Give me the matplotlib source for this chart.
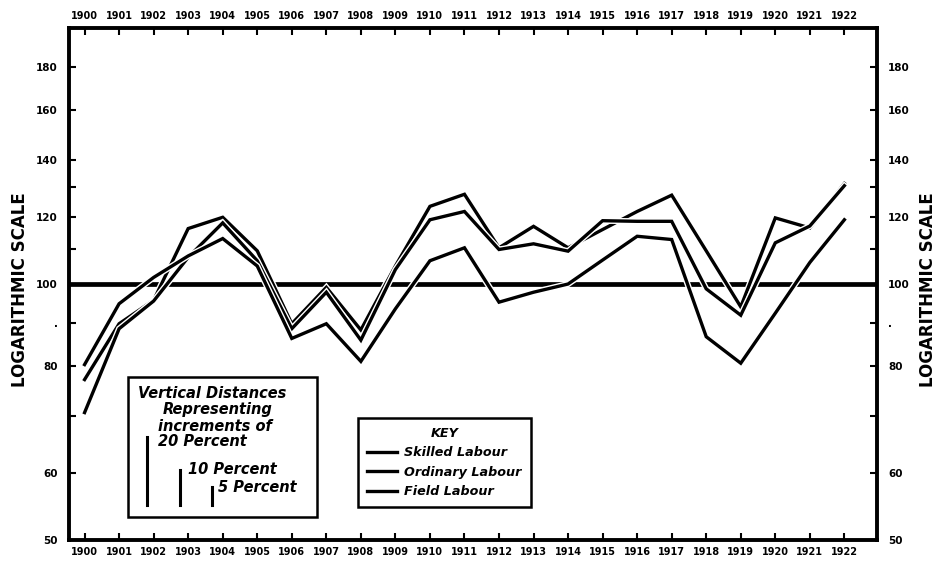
import matplotlib
matplotlib.use('Agg')
import matplotlib.pyplot as plt
import matplotlib.patheffects as pe
from matplotlib.patches import Rectangle
from matplotlib.ticker import NullLocator, NullFormatter

# индексы заработной платы, 1900-1922 (логарифмическая шкала)
years = list(range(1900, 1923))
skilled = [77.2, 89.8, 95.7, 116.2, 119.8, 109.4, 89.8, 99.1, 88.3, 105.0, 123.4, 127.5,
           110.3, 116.9, 110.3, 115.9, 121.7, 127.2, 109.4, 94.0, 119.6, 116.4, 131.3]
ordinary = [70.6, 88.6, 95.5, 107.5, 118.0, 106.5, 88.6, 97.8, 85.9, 104.0, 119.0, 121.7,
            109.8, 111.5, 109.3, 118.7, 118.5, 118.5, 98.7, 91.9, 111.8, 117.0, 130.5]
field = [80.4, 94.8, 101.8, 107.9, 113.1, 105.0, 86.3, 89.8, 81.1, 93.5, 106.5, 110.3,
         95.2, 97.8, 100.0, 106.7, 113.8, 112.8, 86.7, 80.7, 92.4, 106.0, 119.0]
series_names = ['Skilled Labour', 'Ordinary Labour', 'Field Labour']

y_ticks = [50, 60, 70, 80, 90, 100, 110, 120, 130, 140, 160, 180]
y_tick_labels = ['50', '60', '', '80', '.', '100', '', '120', '', '140', '160', '180']

# масштабные отрезки: приращения в процентах
increments = [20, 10, 5]
bar_base = 55
bar_years = [1901.8, 1902.75, 1903.7]

fig = plt.figure(figsize=(9.43, 5.67), dpi=100)
ax = fig.add_axes([0.0732, 0.0476, 0.857, 0.903])
ax.set_yscale('log')
ax.set_ylim(50, 200)
ax.set_xlim(1899.55, 1922.95)

# базовая линия 100
ax.axhline(100, color='black', linewidth=3.4, zorder=1)

stroke = [pe.Stroke(linewidth=4.4, foreground='white'), pe.Normal()]
for values, name in zip([skilled, ordinary, field], series_names):
    ax.plot(years, values, color='black', linewidth=2.4, label=name,
            solid_joinstyle='miter', path_effects=stroke, zorder=3)

# оси
for side in ['left', 'right', 'top', 'bottom']:
    ax.spines[side].set_linewidth(2.8)
ax.set_yticks(y_ticks)
ax.set_yticklabels(y_tick_labels)
ax.yaxis.set_minor_locator(NullLocator())
ax.yaxis.set_minor_formatter(NullFormatter())
ax.set_xticks(years)
ax.set_xticklabels([str(y) for y in years])
ax.tick_params(axis='both', direction='in', length=5, width=1.5,
               top=True, right=True, labeltop=True, labelright=True)
ax.tick_params(axis='y', labelsize=7.5, pad=8)
ax.tick_params(axis='x', labelsize=7, pad=5)
for t in ax.xaxis.get_major_ticks():
    t.label1.set_fontweight('bold')
    t.label2.set_fontweight('bold')
for t in ax.yaxis.get_major_ticks():
    t.label1.set_fontweight('bold')
    t.label2.set_fontweight('bold')

fig.text(0.021, 0.49, 'LOGARITHMIC SCALE', rotation=90, ha='center', va='center',
         fontsize=12, fontweight='bold')
fig.text(0.984, 0.49, 'LOGARITHMIC SCALE', rotation=90, ha='center', va='center',
         fontsize=12, fontweight='bold')

# блок с масштабными отрезками
ax.add_patch(Rectangle((0.073, 0.045), 0.234, 0.273, transform=ax.transAxes,
                       fill=False, edgecolor='black', linewidth=1.8, zorder=4))
txt = dict(transform=ax.transAxes, fontsize=10.5, fontweight='bold', style='italic',
           ha='left', va='center', zorder=5)
ax.text(0.085, 0.287, 'Vertical Distances', **txt)
ax.text(0.116, 0.254, 'Representing', **txt)
ax.text(0.110, 0.222, 'increments of', **txt)
ax.text(0.110, 0.192, '20 Percent', **txt)
ax.text(0.147, 0.137, '10 Percent', **txt)
ax.text(0.184, 0.102, '5 Percent', **txt)
for x, p in zip(bar_years, increments):
    ax.plot([x, x], [bar_base, bar_base * (1 + p / 100)], color='black',
            linewidth=2.2, zorder=5)

# легенда
leg = ax.legend(loc='lower left', bbox_to_anchor=(0.35, 0.052), title='KEY',
                prop={'weight': 'bold', 'style': 'italic', 'size': 9.2},
                title_fontproperties={'weight': 'bold', 'style': 'italic', 'size': 9.2},
                fancybox=False, edgecolor='black', framealpha=1,
                handlelength=2.3, handletextpad=0.6, labelspacing=0.5, borderpad=0.7)
leg.get_frame().set_linewidth(1.8)

fig.savefig('out.png', dpi=100)
